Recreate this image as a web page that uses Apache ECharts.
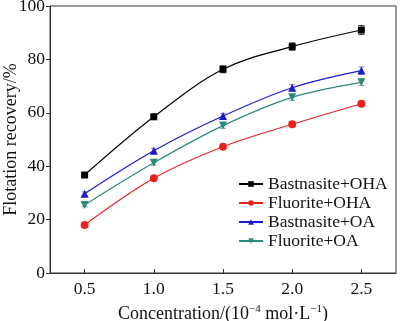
<!DOCTYPE html>
<html><head><meta charset="utf-8">
<script src="https://cdn.jsdelivr.net/npm/echarts@6/dist/echarts.min.js"></script>
<style>html,body{margin:0;padding:0;background:#fff}#c{width:400px;height:321px}</style>
</head><body><div id="c"></div>
<script>
const concentrations = [0.5, 1.0, 1.5, 2.0, 2.5];
const bastnasiteOHA = [36.7, 58.5, 76.3, 84.8, 91.0];
const fluoriteOHA = [18.0, 35.5, 47.3, 55.7, 63.4];
const bastnasiteOA = [29.7, 45.8, 58.8, 69.4, 75.8];
const fluoriteOA = [25.5, 41.3, 55.2, 65.8, 71.4];
const errBastnasiteOHA = [0.8, 1.0, 1.3, 1.4, 1.7];
const errFluoriteOHA = [0.6, 0.8, 0.8, 0.9, 1.0];
const errBastnasiteOA = [0.7, 0.9, 1.0, 1.2, 1.4];
const errFluoriteOA = [0.7, 0.9, 1.0, 1.1, 1.2];
const xTicks = [0.5, 1.0, 1.5, 2.0, 2.5];
const yTicks = [0, 20, 40, 60, 80, 100];

const names = ['Bastnasite+OHA','Fluorite+OHA','Bastnasite+OA','Fluorite+OA'];
const values = [bastnasiteOHA, fluoriteOHA, bastnasiteOA, fluoriteOA];
const errs = [errBastnasiteOHA, errFluoriteOHA, errBastnasiteOA, errFluoriteOA];
const colors = ['#000000','#e8231f','#1a1ad0','#2a8a7c'];
const symbols = ['rect','circle','triangle','path://M0,0 L10,0 L5,9 Z'];
const sizes = [7,8,8,8];
const font = 'Liberation Serif';

const series = [];
values.forEach((v,i)=>{
  series.push({
    name: names[i], type:'line', smooth:0.35,
    data: concentrations.map((x,j)=>[x,v[j]]),
    symbol: symbols[i], symbolSize: sizes[i],
    lineStyle:{color:colors[i], width:1.2},
    itemStyle:{color:colors[i]},
    z: 3
  });
  series.push({
    type:'custom', silent:true, z:2,
    data: concentrations.map((x,j)=>[x, v[j]-errs[i][j], v[j]+errs[i][j]]),
    renderItem: function(params, api){
      const x = api.value(0);
      const lo = api.coord([x, api.value(1)]);
      const hi = api.coord([x, api.value(2)]);
      const w = 3;
      const st = {stroke: i===0?'#444':'#8899aa', lineWidth:1};
      return {type:'group', children:[
        {type:'line', shape:{x1:lo[0],y1:lo[1],x2:hi[0],y2:hi[1]}, style:st},
        {type:'line', shape:{x1:lo[0]-w,y1:lo[1],x2:lo[0]+w,y2:lo[1]}, style:st},
        {type:'line', shape:{x1:hi[0]-w,y1:hi[1],x2:hi[0]+w,y2:hi[1]}, style:st}
      ]};
    }
  });
});

const chart = echarts.init(document.getElementById('c'));
chart.setOption({
  animation:false,
  backgroundColor:'#fff',
  grid:{left:50, right:4, top:6, bottom:48, show:true, borderColor:'#333', borderWidth:1,
    containLabel:false, outerBoundsMode:'none'},
  legend:{
    data: names, orient:'vertical', left:233, top:170, itemGap:1,
    itemWidth:24, itemHeight:7,
    textStyle:{fontFamily:font, fontSize:17.5, color:'#111'}
  },
  xAxis:{
    type:'value', min:0.25, max:2.75,
    axisLine:{lineStyle:{color:'#333'}},
    axisTick:{inside:true, length:4, lineStyle:{color:'#333'},
      customValues: xTicks},
    axisLabel:{fontFamily:font, fontSize:17.5, color:'#111', margin:7,
      customValues: xTicks, formatter: v=>v.toFixed(1)},
    splitLine:{show:false},
    name:'{a|Concentration/(10}{s|−4}{a| mol·L}{s|−1}{a|)}',
    nameLocation:'middle', nameGap:31, nameMoveOverlap:false,
    nameTextStyle:{rich:{
      a:{fontFamily:font, fontSize:18, color:'#111'},
      s:{fontFamily:font, fontSize:11, color:'#111', verticalAlign:'top', padding:[0,0,9,0]}
    }}
  },
  yAxis:{
    type:'value', min:0, max:100, interval:20,
    axisLine:{show:true, lineStyle:{color:'#333'}},
    axisTick:{show:true, inside:false, length:4, lineStyle:{color:'#333'}},
    axisLabel:{fontFamily:font, fontSize:17.5, color:'#111', margin:5},
    splitLine:{show:false},
    name:'Flotation recovery/%', nameLocation:'middle', nameGap:30, nameMoveOverlap:false,
    nameTextStyle:{fontFamily:font, fontSize:18, color:'#111'}
  },
  series: series
});
</script>
</body></html>
